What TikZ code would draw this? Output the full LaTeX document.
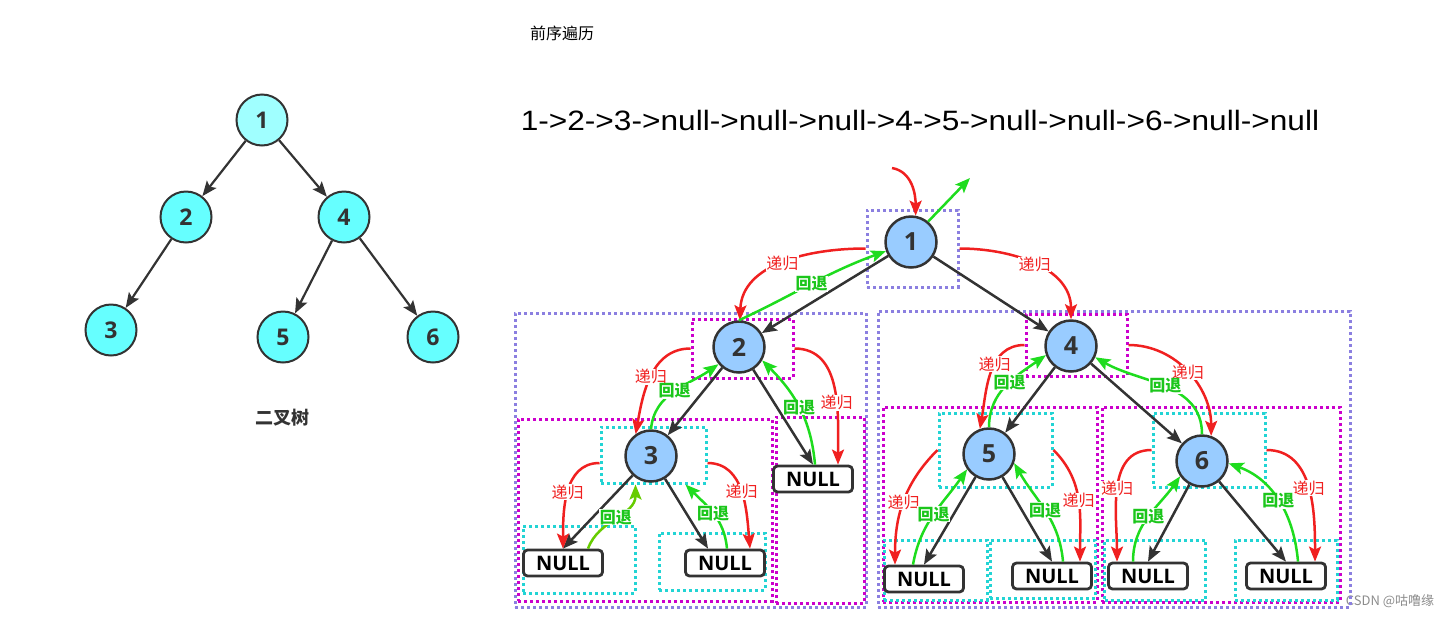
\documentclass[tikz,border=0pt]{standalone}
\usepackage{fontspec}
\setmainfont{Open Sans}
\newfontfamily\cjk{Noto Sans CJK SC}
\newfontfamily\seqfont{Liberation Sans}
\usetikzlibrary{arrows.meta}
\definecolor{edgegray}{HTML}{333333}
\definecolor{treecyan}{HTML}{66FFFF}
\definecolor{rootcyan}{HTML}{A0FFFF}
\definecolor{nodeblue}{HTML}{99CCFF}
\definecolor{lavender}{HTML}{8B7FE0}
\definecolor{boxmag}{HTML}{CC00CC}
\definecolor{boxcyan}{HTML}{22D4D4}
\definecolor{recred}{HTML}{F02020}
\definecolor{backgreen}{HTML}{1EDC1E}
\definecolor{yellowgreen}{HTML}{66CC00}
\tikzset{x=1pt,y=1pt,>={Stealth[length=15pt,width=12pt,inset=3pt]}}
\tikzset{
	lnode/.style={circle,draw=edgegray,line width=2pt,fill=treecyan,minimum size=51pt,inner sep=0pt,text=edgegray,font=\bfseries\fontsize{23}{23}\selectfont},
	rnode/.style={circle,draw=edgegray,line width=2.5pt,fill=nodeblue,minimum size=51pt,inner sep=0pt,text=edgegray,font=\bfseries\fontsize{25}{25}\selectfont},
	nullbox/.style={rectangle,rounded corners=4pt,draw=edgegray,line width=2.8pt,fill=white,minimum width=79pt,minimum height=26pt,inner sep=0pt,text=black,font=\bfseries\fontsize{20}{20}\selectfont},
	lavbox/.style={rectangle,draw=lavender,line width=3pt,dash pattern=on 3pt off 3pt,inner sep=0pt},
	magbox/.style={rectangle,draw=boxmag,line width=3pt,dash pattern=on 3pt off 3pt,inner sep=0pt},
	cybox/.style={rectangle,draw=boxcyan,line width=3pt,dash pattern=on 3pt off 3pt,inner sep=0pt},
	ledge/.style={->,draw=edgegray,line width=2.2pt},
	edge/.style={->,draw=edgegray,line width=2.5pt},
	dg/.style={->,draw=recred,line width=2.5pt},
	hd/.style={->,draw=backgreen,line width=2.5pt},
	dglab/.style={fill=white,inner sep=0.5pt,text=recred,font=\cjk\fontsize{16}{16}\selectfont},
	hdlab/.style={fill=white,inner sep=0.5pt,text=backgreen!90!black,font=\cjk\bfseries\fontsize{16}{16}\selectfont}
}
\begin{document}
\begin{tikzpicture}
		\useasboundingbox(0,0) rectangle (1455,-619);
		\node(l1)[lnode,fill=rootcyan] at (262,-120){1};
		\node(l2)[lnode] at (186,-217){2};
		\node(l4)[lnode] at (344,-217){4};
		\node(l3)[lnode] at (111,-330){3};
		\node(l5)[lnode] at (283,-337){5};
		\node(l6)[lnode] at (433,-337){6};
		\draw[ledge](l1) to (l2);
		\draw[ledge](l1) to (l4);
		\draw[ledge](l2) to (l3);
		\draw[ledge](l4) to (l5);
		\draw[ledge](l4) to (l6);
		\node(tree)[text=edgegray,font=\cjk\bfseries\fontsize{18}{18}\selectfont] at (282,-418){二叉树};
		\node(title)[font=\cjk\fontsize{16}{16}\selectfont] at (562,-33){前序遍历};
		\node(seq)[xscale=1.13,font=\seqfont\fontsize{28}{28}\selectfont] at (920,-120){1->2->3->null->null->null->4->5->null->null->6->null->null};
		\node(mark)[text=black!45,font=\cjk\fontsize{13}{13}\selectfont] at (1390,-601){CSDN @咕噜缘};
		\node(bxl)[lavbox,minimum width=351pt,minimum height=294pt] at (690.5,-460){};
		\node(bxr)[lavbox,minimum width=472pt,minimum height=296pt] at (1114,-459){};
		\node(bx1)[lavbox,minimum width=91pt,minimum height=77pt] at (912.5,-248.5){};
		\node(bx2)[magbox,minimum width=101pt,minimum height=59pt] at (742.5,-348.5){};
		\node(bx4)[magbox,minimum width=101pt,minimum height=62pt] at (1076.5,-345){};
		\node(bx3s)[magbox,minimum width=254pt,minimum height=182pt] at (645,-510){};
		\node(bxn2)[magbox,minimum width=88pt,minimum height=186pt] at (820,-510){};
		\node(bx5s)[magbox,minimum width=214pt,minimum height=195pt] at (990,-504.5){};
		\node(bx6s)[magbox,minimum width=238pt,minimum height=195pt] at (1221,-504.5){};
		\node(bx3)[cybox,minimum width=105pt,minimum height=56pt] at (653.5,-455){};
		\node(bx5)[cybox,minimum width=113pt,minimum height=74pt] at (995.5,-450){};
		\node(bx6)[cybox,minimum width=112pt,minimum height=74pt] at (1209,-450){};
		\node(bn3l)[cybox,minimum width=112pt,minimum height=67pt] at (579,-559.5){};
		\node(bn3r)[cybox,minimum width=106pt,minimum height=57pt] at (712,-561.5){};
		\node(bn5l)[cybox,minimum width=103pt,minimum height=60pt] at (935.5,-570){};
		\node(bn5r)[cybox,minimum width=105pt,minimum height=58pt] at (1042.5,-569){};
		\node(bn6l)[cybox,minimum width=101pt,minimum height=60pt] at (1155,-570){};
		\node(bn6r)[cybox,minimum width=102pt,minimum height=60pt] at (1286,-570){};
		\node(r1)[rnode] at (911,-242){1};
		\node(r2)[rnode] at (739,-347){2};
		\node(r4)[rnode] at (1071,-346){4};
		\node(r3)[rnode] at (651,-456){3};
		\node(r5)[rnode] at (989,-454){5};
		\node(r6)[rnode] at (1202,-461){6};
		\node(n3l)[nullbox] at (563,-563){NULL};
		\node(n3r)[nullbox] at (725,-563){NULL};
		\node(n2r)[nullbox] at (813,-479){NULL};
		\node(n5l)[nullbox] at (924,-579){NULL};
		\node(n5r)[nullbox] at (1052,-576){NULL};
		\node(n6l)[nullbox] at (1148,-576){NULL};
		\node(n6r)[nullbox] at (1286,-576){NULL};
		\coordinate(start) at (892,-168);
		\coordinate(finish) at (970,-178);
		\draw[edge](r1) to (r2);
		\draw[edge](r1) to (r4);
		\draw[edge](r2) to (r3);
		\draw[edge](r2) to (n2r.north);
		\draw[edge](r3) to (n3l.north);
		\draw[edge](r3) to ([xshift=-17pt]n3r.north);
		\draw[edge](r4) to (r5);
		\draw[edge](r4) to (r6);
		\draw[edge](r5) to (n5l.north);
		\draw[edge](r5) to (n5r.north);
		\draw[edge](r6) to (n6l.north);
		\draw[edge](r6) to (n6r.north);
		\draw[dg](start) to[out=-10,in=90] (r1.80);
		\draw[hd](r1.50) to (finish);
		\draw[dg](bx1.west) to[out=180,in=88] node[dglab]{递归}(r2.88);
		\draw[hd](r2.90) to[out=25,in=200] node[hdlab]{回退}(r1.200);
		\draw[dg](bx1.east) to[out=0,in=90] node[dglab]{递归}(r4.north);
		\draw[dg](bx2.west) to[out=180,in=80] node[dglab]{递归}(r3.125);
		\draw[hd](r3.north) to[out=85,in=215] node[hdlab]{回退}(r2.220);
		\draw[dg](bx2.east) to[out=0,in=90] node[dglab,pos=0.6]{递归}([xshift=25pt]n2r.north);
		\draw[hd]([xshift=2pt]n2r.north) to[out=95,in=-45] node[hdlab]{回退}(r2.-30);
		\draw[dg]([yshift=-8pt]bx3.west) to[out=180,in=90] node[dglab]{递归}(n3l.north);
		\draw[hd,draw=yellowgreen]([xshift=25pt]n3l.north) to[out=70,in=-90] node[hdlab]{回退}([xshift=-18pt]bx3.south);
		\draw[dg]([yshift=-8pt]bx3.east) to[out=0,in=95] node[dglab]{递归}([xshift=25pt]n3r.north);
		\draw[hd]([xshift=2pt]n3r.north) to[out=95,in=-45] node[hdlab]{回退}([xshift=32pt]bx3.south);
		\draw[dg](bx4.west) to[out=180,in=80] node[dglab,pos=0.4]{递归}(r5.110);
		\draw[hd](r5.north) to[out=90,in=215] node[hdlab,pos=0.55]{回退}(r4.200);
		\draw[dg](bx4.east) to[out=0,in=90] node[dglab]{递归}(r6.70);
		\draw[hd](r6.north) to[out=90,in=-30] node[hdlab]{回退}(r4.-25);
		\draw[dg](bx5.west) to[out=225,in=90] node[dglab]{递归}([xshift=-29pt]n5l.north);
		\draw[hd]([xshift=-11pt]n5l.north) to[out=80,in=235] node[hdlab]{回退}(r5.215);
		\draw[dg](bx5.east) to[out=-45,in=90] node[dglab]{递归}([xshift=28pt]n5r.north);
		\draw[hd]([xshift=11pt]n5r.north) to[out=95,in=-60] node[hdlab]{回退}(r5.-20);
		\draw[dg](bx6.west) to[out=180,in=90] node[dglab]{递归}([xshift=-31pt]n6l.north);
		\draw[hd]([xshift=-15pt]n6l.north) to[out=90,in=235] node[hdlab]{回退}(r6.215);
		\draw[dg](bx6.east) to[out=0,in=90] node[dglab]{递归}([xshift=29pt]n6r.north);
		\draw[hd]([xshift=12pt]n6r.north) to[out=95,in=-20] node[hdlab]{回退}(r6.-5);
	\end{tikzpicture}
\end{document}
